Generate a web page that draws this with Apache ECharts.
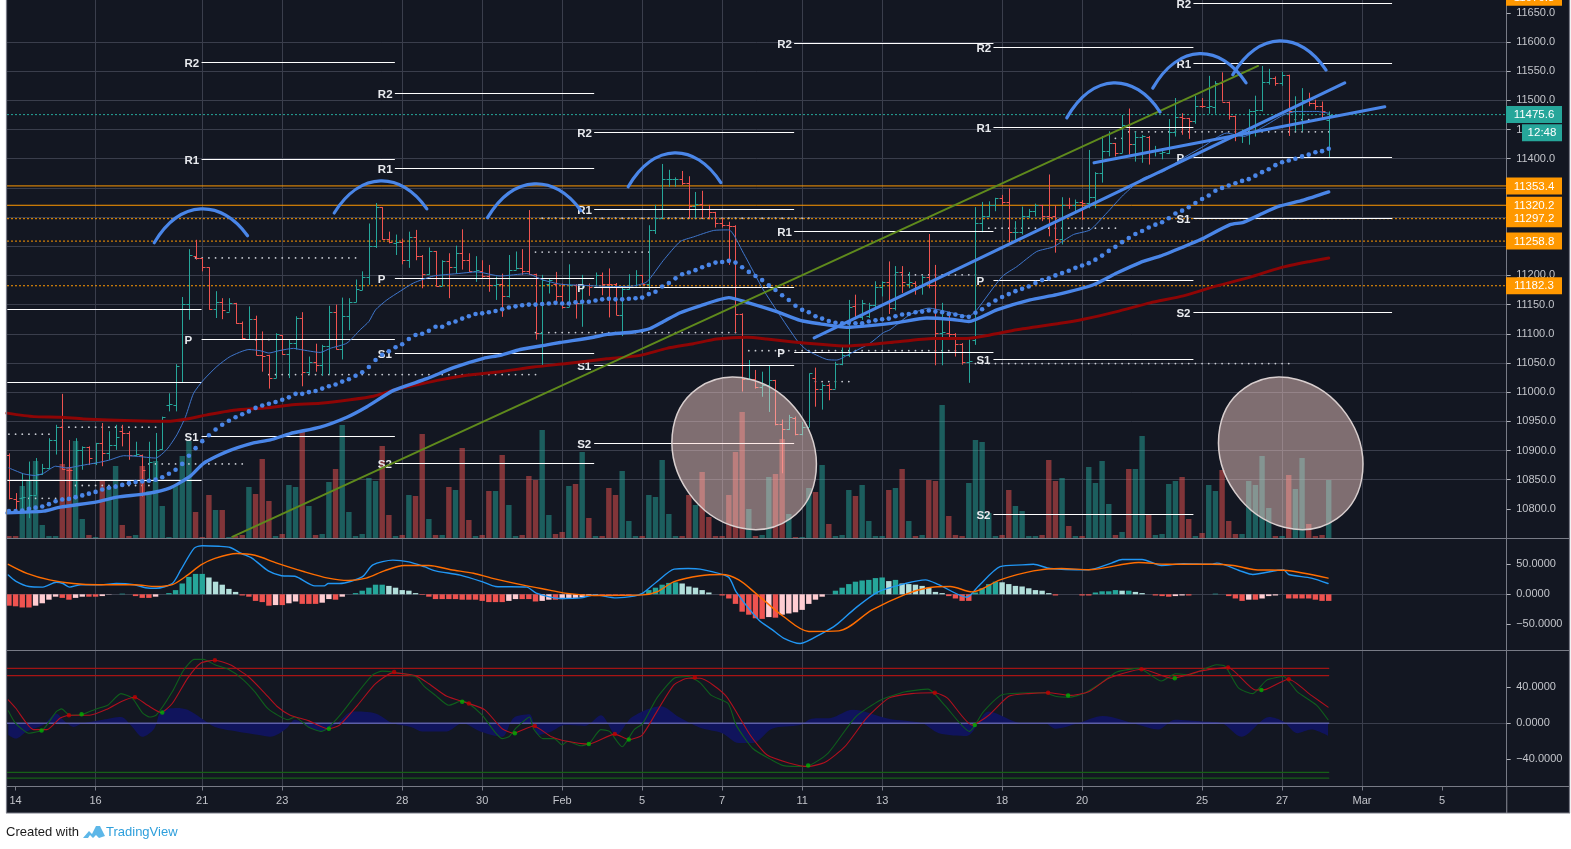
<!DOCTYPE html>
<html><head><meta charset="utf-8">
<style>html,body{margin:0;padding:0;background:#fff;overflow:hidden}#c{width:1571px;height:849px}</style>
<script src="https://cdn.jsdelivr.net/npm/echarts@6/dist/echarts.min.js"></script></head>
<body><div id="c"></div>
<script>
const FONT='"Liberation Sans",Arial,sans-serif';
const firstBar=-1;
// [open, high, low, close]
const ohlcBars=[
[10893,10895,10816,10818],[10816,10827,10793,10813],[10818,10861,10793,10820],[10798,10881,10784,10824],[10824,10887,10824,10860],[10860,10877,10858,10870],[10870,10921,10868,10918],[10918,10944,10893,10941],[10941,10997,10867,10868],[10867,10918,10821,10866],
[10821,10921,10818,10900],[10900,10907,10867,10906],[10906,10907,10875,10887],[10878,10913,10875,10913],[10913,10947,10873,10896],[10896,10933,10884,10910],[10910,10944,10901,10923],[10933,10944,10907,10930],[10930,10933,10884,10893],[10893,10915,10890,10894],
[10893,10893,10821,10867],[10847,10915,10845,10880],[10850,10930,10847,10901],[10902,10958,10901,10958],[10978,10998,10967,10979],[10978,11048,10967,11045],[11017,11163,11017,11151],[11151,11245,11124,11235],[11234,11261,11227,11230],[11229,11230,11207,11214],
[11214,11214,11141,11142],[11142,11173,11127,11155],[11155,11161,11125,11140],[11138,11161,11138,11153],[11153,11153,11117,11118],[11118,11121,11090,11093],[11091,11147,11090,11125],[11125,11131,11063,11063],[11063,11104,11035,11062],[11063,11064,11006,11025],
[11025,11101,11024,11099],[11098,11098,11064,11066],[11066,11090,11024,11084],[11084,11130,11073,11127],[11127,11137,11010,11035],[11035,11061,11030,11051],[11051,11083,11035,11047],[11047,11081,11028,11079],[11079,11148,11030,11137],[11137,11150,11073,11074],
[11074,11162,11056,11131],[11131,11161,11106,11154],[11154,11193,11154,11177],[11175,11207,11175,11198],[11198,11289,11184,11250],[11250,11324,11247,11317],[11317,11317,11261,11262],[11262,11275,11255,11258],[11255,11270,11235,11257],
[11257,11263,11219,11227],[11227,11275,11213,11265],[11265,11278,11226,11233],[11233,11235,11178,11202],[11202,11248,11201,11242],[11242,11242,11181,11182],[11182,11226,11182,11225],[11225,11238,11161,11214],[11214,11251,11203,11238],[11238,11279,11210,11226],
[11226,11238,11206,11208],[11208,11233,11189,11209],[11208,11226,11195,11199],[11199,11218,11172,11184],[11184,11198,11158,11185],[11185,11203,11129,11165],[11165,11235,11162,11210],[11210,11241,11210,11212],[11212,11245,11201,11208],[11208,11312,11201,11203],
[11203,11203,11090,11102],[11102,11201,11045,11192],[11186,11195,11169,11192],[11186,11206,11152,11165],[11165,11186,11143,11146],[11146,11219,11146,11183],[11183,11185,11126,11153],[11153,11201,11112,11183],[11183,11186,11165,11181],[11181,11205,11181,11201],
[11201,11205,11166,11186],[11186,11212,11128,11185],[11186,11187,11132,11132],[11132,11181,11096,11176],[11176,11202,11176,11181],[11181,11209,11181,11201],[11201,11201,11186,11186],[11186,11286,11175,11277],[11277,11321,11271,11298],[11298,11391,11298,11365],
[11365,11381,11352,11366],[11365,11368,11352,11366],[11365,11379,11355,11358],[11358,11370,11298,11319],[11319,11343,11298,11323],[11323,11345,11298,11313],[11313,11321,11296,11309],[11309,11309,11282,11289],[11289,11298,11282,11286],[11286,11292,11218,11285],
[11285,11286,11102,11134],[11134,11135,11001,11022],[11022,11055,11021,11022],[11022,11038,11006,11009],[11009,11035,10992,11012],[11012,11046,10966,11021],[11021,11021,10943,10945],[10945,10953,10861,10936],[10936,10961,10935,10958],[10955,10958,10926,10928],
[10928,10949,10926,10940],[10940,11032,10940,11032],[11025,11042,10975,11006],[11006,11015,10970,11012],[11012,11015,10986,11006],[11006,11052,11006,11048],[11048,11079,11046,11063],[11063,11158,11060,11146],
[11147,11167,11127,11129],[11129,11158,11124,11153],[11130,11153,11127,11149],[11149,11190,11141,11180],[11180,11190,11164,11189],[11189,11224,11134,11144],[11144,11216,11140,11206],[11206,11216,11170,11188],[11186,11206,11178,11188],[11187,11190,11167,11181],
[11181,11200,11167,11198],[11198,11271,11178,11184],[11184,11218,11046,11102],[11102,11153,11046,11103],[11101,11138,11093,11100],[11100,11101,11061,11083],[11083,11084,11047,11052],[11052,11093,11016,11053],[11090,11317,11081,11290],[11290,11326,11274,11301],
[11301,11327,11300,11321],[11321,11333,11310,11333],[11333,11338,11321,11325],[11325,11349,11255,11274],[11274,11293,11261,11275],[11275,11318,11270,11301],[11301,11314,11298,11310],[11310,11323,11301,11321],[11321,11321,11293,11301],[11301,11373,11267,11300],
[11301,11320,11239,11263],[11263,11334,11253,11321],[11321,11333,11314,11320],[11321,11330,11307,11326],[11326,11329,11295,11324],[11324,11415,11315,11334],[11334,11377,11315,11375],[11375,11439,11359,11413],[11413,11447,11404,11427],[11427,11427,11404,11410],
[11410,11475,11410,11458],[11458,11486,11407,11426],[11426,11447,11395,11438],[11438,11441,11393,11439],[11438,11439,11390,11413],[11413,11422,11404,11413],[11409,11418,11399,11411],[11410,11468,11408,11445],[11445,11504,11438,11471],[11471,11478,11441,11470],
[11470,11470,11434,11464],[11464,11508,11460,11491],[11491,11504,11487,11490],[11489,11542,11477,11491],[11489,11533,11477,11530],[11530,11548,11498,11498],[11498,11498,11467,11474],[11474,11474,11430,11441],[11441,11450,11427,11444],[11444,11485,11424,11481],
[11481,11508,11438,11483],[11483,11559,11481,11531],[11531,11554,11527,11538],[11538,11541,11525,11530],[11530,11549,11525,11544],[11544,11544,11439,11481],[11481,11507,11447,11482],[11481,11521,11447,11501],[11501,11513,11490,11495],[11495,11501,11484,11490],
[11490,11498,11467,11481],[11467,11481,11401,11475.6]];
const volumeBars=[2,2,52,57,77,13,2,2,74,71,97,19,3,1,58,51,72,13,2,3,72,47,77,32,1,53,82,97,26,1,43,28,28,1,2,3,51,44,79,37,2,4,53,51,107,32,3,4,56,69,113,26,2,4,60,57,92,23,2,
3,43,42,104,19,3,3,51,48,90,18,2,3,47,47,83,33,2,3,62,58,108,23,4,6,52,54,86,20,2,2,50,43,67,17,2,2,43,41,78,24,2,2,43,33,66,21,2,2,43,86,126,29,2,3,61,64,99,24,1,1,50,46,73,14,2,3,48,
42,53,17,2,2,48,50,69,17,2,3,58,57,133,22,3,2,55,98,96,25,2,3,48,32,27,2,2,3,78,57,60,12,2,2,71,55,77,34,3,6,69,69,102,24,3,4,54,57,61,19,2,5,53,47,68,17,4,4,57,53,82,30,2,2,63,49,80,14,2,3,58];
const bluePlotDots=[10796,10796,10797,10800,10802,10804,10808,10813,10816,10817,10820,10823,10826,10829,10833,10836,10838,10841,10844,10846,10847,10848,10850,10854,10860,10867,10877,10891,10904,10916,10926,10936,10944,10951,10957,10962,10967,10973,10977,10980,10983,10987,10991,10997,10997,11000,11002,11006,11010,11013,11018,11022,11028,11034,11043,11055,11064,11070,11077,
11082,11091,11098,11100,11105,11112,11112,11118,11121,11126,11130,11134,11135,11137,11139,11142,11145,11147,11149,11150,11150,11151,11152,11153,11152,11152,11154,11155,11155,11157,11159,11160,11159,11159,11160,11161,11162,11168,11172,11181,11187,11195,11202,11205,11209,11214,11218,11222,11223,11225,11222,11214,11206,11199,11192,11183,11175,11166,11158,11148,11141,11137,11130,11126,11122,11119,11118,11119,
11118,11118,11121,11123,11125,11126,11130,11133,11134,11137,11138,11140,11138,11137,11134,11133,11130,11129,11136,11142,11150,11157,11163,11168,11173,11177,11181,11187,11192,11195,11200,11204,11208,11213,11217,11221,11227,11234,11242,11249,11257,11264,11271,11276,11282,11287,11291,11298,11306,11311,11317,11324,11331,11337,11345,11350,11354,11358,11362,11365,11371,11377,11382,11389,11394,11397,11400,11404,11407,11411,11413,11417];
const maThick=[[-1.3,10793],[4.2,10796],[6.7,10803],[12.2,10812],[15.2,10820],[19.7,10826],[23.2,10836],[26.2,10856],[28.2,10878],[31.7,10898],[35.7,10913],[38.2,10918],[41.2,10929],[45.7,10940],[49.7,10957],[52.7,10975],[56.7,11003],[61.7,11023],[65.7,11042],[70.2,11058],[72.7,11063],[75.7,11073],[79.7,11081],[81.7,11085],[86.7,11094],[88.7,11099],[92.7,11103],[95.2,11109],[97.2,11121],[99.7,11136],[102.7,11148],[107,11162],[109.7,11154],[114.2,11138],[117.7,11123],[120.7,11117],[124.7,11111],[128.2,11114],[132.2,11119],[136.7,11127],[140.2,11125],[143,11121],[147.2,11141],[152.2,11158],[156.2,11167],[161.7,11184],[165.2,11204],[168.7,11222],[171.7,11233],[175.2,11249],[177.7,11261],[182.2,11287],[184.2,11291],[187.2,11307],[189.7,11319],[193.2,11329],[197,11343]];
const maRed=[[-1.3,10964],[2.7,10958],[6.7,10957],[10.2,10954],[17.7,10951],[22.7,10950],[25.7,10954],[28.7,10961],[32.7,10969],[37.7,10973],[41.2,10978],[45.7,10981],[50.2,10987],[53.7,10993],[57.2,11005],[60,11012],[63.7,11021],[67.7,11029],[72.7,11035],[77.7,11043],[82.7,11049],[88.7,11057],[93.7,11063],[97.7,11075],[101.7,11083],[105.2,11091],[109.7,11094],[112.7,11091],[116.7,11086],[120.7,11082],[124.7,11079],[131.2,11085],[137.7,11092],[142.7,11092],[146.2,11098],[150.2,11107],[156.7,11118],[160.2,11125],[165.2,11138],[170.2,11153],[175.2,11165],[180.2,11182],[185.2,11197],[189.7,11213],[194.2,11224],[197,11230]];
const maThin=[[-1,10870],[1.2,10860],[3,10857],[4.2,10861],[6,10873],[7.7,10870],[9.7,10874],[12.7,10880],[14.2,10884],[16.2,10891],[18.2,10890],[21,10887],[22.7,10902],[24.2,10927],[25.5,10958],[26.7,10998],[28.2,11021],[30.2,11044],[32.2,11061],[35,11073],[36.7,11071],[38,11067],[39.5,11071],[41.7,11075],[42.7,11073],[45.7,11068],[47.2,11075],[49.7,11084],[51.7,11107],[53,11121],[54,11141],[55.7,11158],[57.7,11173],[59.7,11187],[62.7,11199],[66.2,11203],[69.2,11206],[72.7,11199],[76.7,11203],[79.2,11192],[81.7,11185],[85.2,11183],[89.7,11181],[92.7,11182],[94.7,11189],[97.2,11226],[99.7,11258],[101.7,11266],[104.7,11277],[107,11278],[109.2,11238],[112.2,11175],[117.2,11089],[118.7,11072],[121.7,11056],[123.2,11055],[125.2,11066],[128.2,11084],[130.2,11102],[131.2,11107],[134.2,11133],[137,11144],[139.7,11138],[143,11130],[144.2,11141],[148,11198],[150.2,11215],[153.2,11241],[155.7,11249],[158.7,11270],[161.2,11278],[163.7,11307],[166.2,11338],[169.2,11367],[172.2,11378],[174.7,11398],[178.2,11421],[181.7,11444],[184.2,11438],[187.2,11455],[190.2,11475],[192.2,11481],[195.2,11481],[197,11478]];
// pivot periods: start bar, end bar, [name, price]
const pivotStart=[-1.25,27.9,56.9,86.8,116.8,146.7,176.7];
const pivotEnd=[27.9,56.9,86.8,116.8,146.7,176.7,206.5];
const pivotLevels=[
[['',11143],['',11018],['',10850]],
[['R2',11566],['R1',11400],['P',11091],['S1',10925]],
[['R2',11513],['R1',11384],['P',11196],['S1',11067],['S2',10879]],
[['R2',11446],['R1',11314],['P',11180],['S1',11047],['S2',10913]],
[['R2',11599],['R1',11276],['P',11069]],
[['R2',11592],['R1',11455],['P',11192],['S1',11057],['S2',10791]],
[['R2',11667],['R1',11564],['P',11403],['S1',11299],['S2',11137]]];
// small white dotted levels: [from bar, to bar, price]
const dotLevels=[[-1,5,10928],[7,21,10940],[27,51,11230],[38,78,11030],[9,20,10840],[20,34,10877],[1,9,10818],[36,38,11090],[78,95,11240],[78,108,11102],[79,119,11298],[110,141,11071],[120,125,11018],[132,144,11201],[146,165,11281],[144,191,11049],[167,197,11446],[192,195,11467],[165,166,11435]];
const hLevels=[11353.4,11320.2,11297.2,11258.8,11182.3];
const hLevelDash=['solid','solid','dot','dot','dot'];
const topLabel=11676.8, lastPrice=11475.6, countdown='12:48';
const trendGreen=[[32.5,10752],[186.4,11559]];
const trendBlue1=[[119.8,11093],[199.4,11530]];
const trendBlue2=[[161.8,11393],[205.4,11489]];
const arcs=[[[20.8,11256],[28.2,11314],[34.8,11268]],[[47.8,11307],[55.3,11362],[61.7,11314]],[[70.8,11299],[78.3,11357],[84.8,11311]],[[91.9,11352],[99.1,11410],[105.8,11359]],[[157.7,11470],[164.9,11530],[171.7,11480]],[[170.6,11521],[178.1,11580],[184.6,11530]],[[182.6,11544],[190,11602],[196.6,11552]]];
const ellipses=[[109.3,10895],[191.3,10895]];
const macdHist=[-19,-20,-22,-22,-19,-15,-9,-4,-6,-9,-6,-4,-4,-4,-3,-0.5,0,1,0,-3,-6,-6,-4,0,2,7,18,29,34,34,28,21,16,9,4,-2,-4,-11,-13,-19,-18,-18,-15,-12,-16,-16,-16,-14,-8,-9,-4,0,2,6,11,16,16,14,11,7,6,2,-1,-4,-8,-8,-8,-8,-9,-9,-9,-11,-13,-13,-13,-11,-8,-8,-8,-12,-11,-9,-9,-8,-7,-6,-5,-3,-1,-1,-1,-1,-1,-1,0,1,7,11,16,19,20,18,13,11,7,3,0,-2,-7,-16,-29,-34,-40,-41,-38,-39,-34,-32,-30,-26,-16,-9,-4,0,6,11,17,21,23,24,27,28,22,24,18,17,16,14,11,4,2,-3,-7,-11,-11,3,10,17,21,20,17,14,13,10,7,6,2,-2,0,0,0,-2,-2,3,5,5,7,6,6,4,2,0,-2,-3,-4,-3,-2,-2,0,0,0,1,0,-3,-7,-11,-9,-9,-7,-3,-2,0,-7,-7,-7,-7,-9,-11,-11];
const macdLine=[[-1.1,32],[0,22],[2,13],[4.1,12],[6.1,20],[7.1,18],[8.1,12],[9.8,16],[12.8,16],[15.1,18],[17.8,16],[19.5,11],[21.1,10],[23.5,18],[24.8,41],[26.8,77],[28,81],[30.5,80],[32.2,78],[33.9,68],[35.5,60],[37.9,39],[39.9,31],[41.9,30],[44.9,14],[46.3,14],[46.9,18],[48.6,18],[52,29],[53.6,49],[56.6,57],[59,54],[61.3,46],[63,39],[66.7,32],[70,21],[72,13],[76.7,12],[78.1,2],[81.8,-7],[84.8,-6],[86.8,-1],[90.1,-6],[92.8,-3],[94.1,2],[96.2,21],[98.8,42],[100.9,43],[102.7,42],[106.9,29],[108.1,4],[111.5,-43],[113.5,-59],[115.2,-73],[117.7,-82],[121,-65],[123.1,-51],[126,-23],[129.4,4],[133.5,18],[136.5,24],[138.5,16],[142.7,-5],[144.4,13],[147.7,46],[151,49],[152.7,50],[155.2,43],[161,41],[164.4,52],[166,58],[169,58],[171.9,48],[175.2,51],[179.4,50],[180.2,52],[184,38],[185.6,33],[190.2,41],[191,33],[194.4,27],[196.9,18]];
const macdSignal=[[-1.1,50],[1.7,35],[5.1,24],[8.7,18],[12.4,16],[17.8,16],[21.1,13],[23.5,16],[25.8,32],[27.8,49],[29.9,60],[33.2,68],[35.9,65],[39.2,52],[43.2,38],[46.9,27],[49.9,23],[52.6,27],[55.3,39],[58.3,48],[62,48],[65.3,41],[68.7,35],[71.4,27],[76.7,14],[80.1,7],[82.4,2],[86.8,-2],[94.1,-1],[96.2,4],[98.8,21],[102.7,31],[106,33],[108.5,24],[111,2],[115.2,-37],[119,-62],[123.5,-61],[128.5,-26],[133.5,0],[136.9,11],[140.2,13],[143.5,4],[147.7,24],[152.7,39],[156.9,43],[161,41],[168.5,53],[172.7,50],[179.4,50],[182.7,48],[186,41],[190.2,40],[196.9,27]];
const stochFast=[[-1.1,14],[0,0],[2,-11],[4.1,-7],[6.1,13],[6.9,16],[8.1,9],[10.1,10],[12.1,16],[13.8,20],[15.8,33],[17.5,28],[19,12],[20.1,7],[21.1,9],[23.5,35],[25.2,59],[26.8,71],[28.2,71],[29.9,65],[31.9,60],[33.9,50],[35.9,35],[37.9,16],[40.9,4],[41.9,7],[43.9,-4],[45.9,-9],[46.9,-5],[48.9,11],[51,31],[53.6,54],[55,58],[56.6,57],[60,52],[61.3,41],[63,31],[65,20],[67,25],[68,22],[70,9],[73,-17],[74,-15],[75,-6],[77.1,7],[77.7,-6],[79.1,-17],[80.8,-17],[82,-24],[82.8,-20],[84.8,-25],[86.1,-22],[87.8,-7],[89.1,-9],[91,-26],[92.8,-7],[94.1,0],[96.2,28],[98.8,50],[100.9,52],[102.7,45],[104.4,31],[106.9,22],[108.1,-2],[110.6,-28],[113.5,-41],[115.2,-47],[118.5,-48],[121.9,-33],[126,7],[129.8,26],[133.5,35],[136.9,38],[139.4,20],[143.1,-9],[145.2,13],[148.1,32],[154.4,34],[156,30],[158.1,29],[160.2,33],[162.7,44],[165.2,57],[168.5,61],[171.9,47],[174,55],[176,54],[180.2,65],[181.5,63],[183.5,39],[185.6,33],[187.7,48],[190.2,52],[192.3,35],[195.2,20],[196.9,4]];
const stochSlow=[[-1.1,26],[0,17],[2.7,-7],[4.7,-7],[6.7,6],[8.1,9],[11.1,9],[13.8,16],[15.8,24],[17.8,29],[19.8,20],[21.8,12],[23.5,22],[25.8,50],[27.8,67],[29.9,70],[32.2,65],[34.9,52],[37.2,35],[39.2,19],[41.2,9],[43.9,3],[46.9,-6],[48.6,-2],[51.3,20],[54,44],[56.6,56],[60,53],[62,44],[64.7,30],[68,22],[70.4,15],[73,-6],[74.7,-11],[77.7,-3],[80.4,-15],[82.1,-19],[86,-23],[89.9,-12],[92,-18],[94,-13],[96.2,13],[98.8,43],[100.9,50],[102.7,50],[106.5,31],[110.2,-13],[112.7,-35],[116,-44],[118.9,-48],[121.5,-43],[124.4,-26],[127.7,6],[131,28],[134.4,33],[137.9,34],[139.8,28],[143.5,-2],[146,9],[149,30],[151.9,33],[155,34],[158.1,31],[161,35],[164,50],[169,60],[173.5,50],[177.7,58],[181.9,62],[186,37],[187.7,38],[191,49],[194.4,31],[196.9,18]];
const stochDiff=[[-1.1,-13],[0,-17],[1.7,-9],[4.1,-2],[6.1,11],[7.4,2],[8.7,-4],[10.1,0],[13.1,4],[15.8,7],[17.5,-4],[19,-15],[20.8,-6],[21.8,13],[24.2,17],[25.8,15],[27.8,6],[29.9,-4],[33.2,-9],[36.5,-13],[38.2,-15],[40.6,-6],[41.9,4],[43.9,-4],[45.9,-9],[47.9,-2],[50.6,13],[54,11],[56.6,0],[59.3,-4],[61,-9],[64.7,-9],[67,0],[69.7,-9],[73,-15],[74.7,6],[77.1,10],[78.4,-13],[80.4,-9],[82.4,-2],[85.4,-3],[87.8,9],[90.1,-13],[92.5,7],[96.8,19],[99.5,7],[102.7,-5],[106,-11],[108.5,-22],[110.6,-22],[113.5,-6],[117.7,-2],[119.4,5],[122.3,6],[125.6,15],[131,5],[136,0],[138.5,-11],[142.7,-14],[146,13],[151,0],[154.4,0],[156,-6],[159.4,0],[163.1,8],[168.5,-2],[171.4,-7],[173.9,4],[178.1,2],[181,0],[183.9,-15],[188.1,7],[190.2,2],[192.3,-11],[194.4,-7],[196.9,-14]];
const crossGreen=[[3.9,-8],[9.9,10],[22,12],[47,-6],[67,24],[74.9,-11],[86,-23],[92,-18],[118.9,-47],[143.9,-2],[157.9,31],[173.9,50],[186.9,37]];
const crossRed=[[8,9],[17.9,29],[29.9,70],[56.8,57],[68,22],[77.9,-3],[89.9,-12],[101.9,51],[137.9,34],[154.9,34],[168.9,60],[181.9,62],[191,49]];
const stochBands=[61,53,-54.4,-61];
const stochBandColors=['#a01414','#a81414','#176017','#176017'];
const timeTicks=[0,12,28,40,58,70,82,94,106,118,130,148,160,178,190,202,214];
const timeLabels=['14','16','21','23','28','30','Feb','5','7','11','13','18','20','25','27','Mar','5'];
const priceTicks=[];for(let p=10800;p<=11650;p+=50)priceTicks.push(p);
const macdTicks=[-50,0,50];
const stochTicks=[-40,0,40];

const BG='#131722',GRID='#3a3e4c',UP='#26a69a',DN='#ef5350',ORANGE='#ff9800',EDGE='#787b86',TXT='#c3c5cb';
const XMIN=-1.29,XMAX=223.7,LASTBAR=197;
const PLOTW=1499.7;
const barIdx=k=>k+firstBar;

const grids=[
 {left:7,width:PLOTW,top:0,height:538},
 {left:7,width:PLOTW,top:301,height:237},
 {left:7,width:PLOTW,top:538.5,height:112},
 {left:7,width:PLOTW,top:650.5,height:136},
 {left:7,width:PLOTW,top:0,height:786.5}];
const hiddenX=g=>({type:'value',gridIndex:g,min:XMIN,max:XMAX,show:false});
const lab=(fmt,vals)=>({color:TXT,fontFamily:FONT,fontSize:11,margin:9.5,customValues:vals,formatter:fmt});
const rightY=(g,min,max,ticks,fmt)=>({type:'value',gridIndex:g,position:'right',min,max,scale:true,
  axisLine:{show:true,onZero:false,lineStyle:{color:EDGE,width:1}},axisTick:{show:true,length:4,customValues:ticks,lineStyle:{color:'#b0b3ba'}},
  axisLabel:lab(fmt,ticks),splitLine:{show:true,showMinLine:false,showMaxLine:false,lineStyle:{color:GRID,width:1}}});

const line=(data,color,width,z,extra)=>Object.assign({type:'line',xAxisIndex:0,yAxisIndex:0,data,showSymbol:false,symbol:'none',silent:true,z,
  lineStyle:{color,width,cap:'round',join:'round'}},extra||{});
const pane=(g)=>({xAxisIndex:g,yAxisIndex:g});
const soft=(g,s)=>Object.assign(pane(g),{smooth:s});

const ohlcData=ohlcBars.map((b,k)=>[barIdx(k),b[0],b[1],b[2],b[3]]);
function renderOHLC(p,api){
  const i=api.value(0),o=api.value(1),h=api.value(2),l=api.value(3),c=api.value(4);
  const X=Math.round(api.coord([i,o])[0])+.5;
  const yO=Math.round(api.coord([i,o])[1])+.5,yH=api.coord([i,h])[1],yL=api.coord([i,l])[1],yC=Math.round(api.coord([i,c])[1])+.5;
  const st={stroke:c>=o?UP:DN,lineWidth:1,fill:null};
  return {type:'group',children:[
   {type:'line',shape:{x1:X,y1:yH,x2:X,y2:yL},style:st},
   {type:'line',shape:{x1:X-3,y1:yO,x2:X,y2:yO},style:st},
   {type:'line',shape:{x1:X,y1:yC,x2:X+3,y2:yC},style:st}]};
}
const pivotRows=[];pivotLevels.forEach((lv,k)=>lv.forEach(r=>pivotRows.push([pivotStart[k],pivotEnd[k],r[1],r[0]])));
function renderPivot(p,api){
  const r=pivotRows[p.dataIndex],a=api.coord([r[0],r[2]]),b=api.coord([r[1],r[2]]);
  const Y=Math.round(a[1])+.5;
  const ch=[{type:'line',shape:{x1:Math.max(a[0],7),y1:Y,x2:b[0],y2:Y},style:{stroke:'#fff',lineWidth:1}}];
  if(r[3])ch.push({type:'text',x:a[0]-17,y:Y+1.5,style:{text:r[3],fill:'#e8eaee',font:'bold 11.5px '+FONT,align:'left',verticalAlign:'middle'}});
  return {type:'group',children:ch};
}
function renderDots(p,api){
  const r=dotLevels[p.dataIndex],ch=[];
  for(let i=r[0];i<=r[1];i++){const c=api.coord([i,r[2]]);ch.push({type:'circle',shape:{cx:c[0],cy:c[1],r:.9},style:{fill:'#c9ccd3'}});}
  return {type:'group',children:ch};
}
function renderArc(p,api){
  const a=arcs[p.dataIndex],s=api.coord(a[0]),m=api.coord(a[1]),e=api.coord(a[2]);
  const midY=(s[1]+e[1])/2,cy=m[1]+(m[1]-midY)/3;
  const dx=e[0]-s[0];
  return {type:'bezierCurve',shape:{x1:s[0],y1:s[1],x2:e[0],y2:e[1],cpx1:s[0]+dx*.28,cpy1:cy,cpx2:s[0]+dx*.72,cpy2:cy},
    style:{stroke:'#4a86e8',lineWidth:3.2,fill:null,lineCap:'round'}};
}
function renderEllipse(p,api){
  const c=api.coord(ellipses[p.dataIndex]);
  return {type:'ellipse',x:c[0],y:c[1],rotation:-0.955,shape:{cx:0,cy:0,rx:80,ry:68},
    style:{fill:'rgba(255,214,208,0.46)',stroke:'#d9cfcf',lineWidth:1.5}};
}
const tagRows=[[topLabel,ORANGE,'o'],...hLevels.map(v=>[v,ORANGE,'o']),[lastPrice,UP,'t']];
function renderTags(p,api){
  const r=tagRows[p.dataIndex],y=api.coord([0,r[0]])[1];
  const ch=[{type:'rect',shape:{x:1506,y:y-8.5,width:56,height:17},style:{fill:r[1]}},
   {type:'text',x:1534,y:y+.5,style:{text:r[0].toFixed(1),fill:'#fff',font:'11.5px '+FONT,align:'center',verticalAlign:'middle'}}];
  if(r[2]==='t'){ch.push({type:'rect',shape:{x:1522,y:y+9.6,width:40,height:17},style:{fill:UP}},
   {type:'text',x:1542,y:y+18.6,style:{text:countdown,fill:'#fff',font:'11.5px '+FONT,align:'center',verticalAlign:'middle'}});}
  return {type:'group',children:ch};
}

const series=[
 {type:'bar',...pane(1),data:volumeBars.map((v,k)=>[barIdx(k),v]),barWidth:5.4,silent:true,z:1,
  itemStyle:{color:p=>{const b=ohlcBars[p.dataIndex];return b[3]>=b[0]?'rgba(38,166,154,0.5)':'rgba(239,83,80,0.5)';}}},
 ...hLevels.map((v,k)=>line([[XMIN,v],[XMAX,v]],ORANGE,1,2,{lineStyle:{color:ORANGE,width:1,type:hLevelDash[k]==='dot'?[2,2]:'solid'}})),
 line([[XMIN,lastPrice],[XMAX,lastPrice]],UP,1,2,{lineStyle:{color:UP,width:1,type:[2,2]}}),
 {type:'custom',...pane(0),data:dotLevels.map((d,k)=>[k]),renderItem:renderDots,silent:true,z:2},
 {type:'custom',...pane(0),data:ohlcData,renderItem:renderOHLC,silent:true,z:3},
 {type:'custom',...pane(0),data:pivotRows.map((d,k)=>[k]),renderItem:renderPivot,silent:true,z:3},
 line(maThin,'#3f76cc',1,4,{smooth:.2}),
 line(maRed,'#8e0505',3,4,{smooth:.2}),
 line(maThick,'#4a86e8',3.4,4,{smooth:.2}),
 {type:'scatter',...pane(0),data:bluePlotDots.map((v,k)=>[barIdx(k),v]),symbolSize:4.6,silent:true,z:4,itemStyle:{color:'#4a86e8',opacity:1}},
 line(trendGreen,'#5f8a1c',2,4),
 line(trendBlue1,'#4a86e8',3.2,5),
 line(trendBlue2,'#4a86e8',3.2,5),
 {type:'custom',...pane(0),data:arcs.map((d,k)=>[k]),renderItem:renderArc,silent:true,z:5},
 {type:'custom',...pane(0),data:ellipses.map((d,k)=>[k]),renderItem:renderEllipse,silent:true,z:6},
 {type:'custom',...pane(0),data:tagRows.map((d,k)=>[k]),renderItem:renderTags,silent:true,z:7,clip:false},
 // MACD
 {type:'bar',...pane(2),data:macdHist.map((v,k)=>[barIdx(k),v]),barWidth:5.4,silent:true,z:2,
  itemStyle:{color:p=>{const v=macdHist[p.dataIndex],q=p.dataIndex?macdHist[p.dataIndex-1]:v;return v>=0?(v>=q?UP:'#b2dfdb'):(v<=q?'#ef5350':'#ffcdd2');}}},
 line(macdLine,'#2196f3',1.4,3,soft(2,.25)),
 line(macdSignal,'#ff6d00',1.4,3,soft(2,.3)),
 // Stochastic-style pane
 Object.assign(line(stochDiff,'#10145c',0,2,soft(3,.3)),{areaStyle:{color:'#10145c',opacity:1,origin:0}}),
 line([[XMIN,0],[LASTBAR,0]],'#5d5fa8',1.5,2,pane(3)),
 ...stochBands.map((v,k)=>line([[XMIN,v],[LASTBAR,v]],stochBandColors[k],1.2,2,pane(3))),
 line(stochFast,'#0f5f1c',1.1,3,soft(3,.2)),
 line(stochSlow,'#b0101e',1.1,3,soft(3,.2)),
 {type:'scatter',...pane(3),data:crossGreen,symbolSize:4.5,silent:true,z:4,itemStyle:{color:'#00b000'}},
 {type:'scatter',...pane(3),data:crossRed,symbolSize:4.5,silent:true,z:4,itemStyle:{color:'#c00000'}},
 {type:'line',xAxisIndex:4,yAxisIndex:4,data:[],silent:true}
];

const chart=echarts.init(document.getElementById('c'),null,{renderer:'canvas',width:1571,height:849});
const gLine=(x1,y1,x2,y2)=>({type:'line',shape:{x1,y1,x2,y2},silent:true,z:8,style:{stroke:EDGE,lineWidth:1.2}});
chart.setOption({
 animation:false,backgroundColor:'#ffffff',grid:grids,
 textStyle:{fontFamily:FONT},
 xAxis:[hiddenX(0),hiddenX(1),hiddenX(2),hiddenX(3),
  {type:'value',gridIndex:4,min:XMIN,max:XMAX,position:'bottom',
   axisLine:{show:true,onZero:false,lineStyle:{color:EDGE,width:1.2}},
   axisTick:{show:true,length:4,customValues:timeTicks,lineStyle:{color:EDGE}},
   axisLabel:{color:TXT,fontFamily:FONT,fontSize:11,margin:9,customValues:timeTicks,formatter:v=>timeLabels[timeTicks.indexOf(v)]||''},
   splitLine:{show:true,showMinLine:false,showMaxLine:false,lineStyle:{color:GRID,width:1}}}],
 yAxis:[
  rightY(0,10750,11672,priceTicks,v=>v.toFixed(1)),
  {type:'value',gridIndex:1,min:0,max:237,show:false},
  rightY(2,-93.7,93,macdTicks,v=>v.toFixed(4).replace('-','\u2212')),
  rightY(3,-70.2,80.9,stochTicks,v=>v.toFixed(4).replace('-','\u2212')),
  {type:'value',gridIndex:4,min:0,max:1,show:false}],
 series,
 graphic:{elements:[
  {type:'rect',z:-10,silent:true,shape:{x:6,y:0,width:1564,height:813},style:{fill:BG}},
  gLine(6.5,0,6.5,813),gLine(1569.5,0,1569.5,813),gLine(6,813,1570,813),
  gLine(7,538.5,1569,538.5),gLine(7,650.5,1569,650.5),gLine(1506.7,786.5,1506.7,813),gLine(1506,786.5,1569,786.5),
  {type:'text',x:6,y:832,silent:true,style:{text:'Created with',fill:'#1a1a1a',font:'13px '+FONT,verticalAlign:'middle'}},
  {type:'polygon',silent:true,shape:{points:[[83,838],[89,831],[92,834],[96,826],[100,826],[105,836],[99,838],[96,835],[93,838],[90,835],[88,838]]},style:{fill:'#5db7e8'}},
  {type:'text',x:106,y:832,silent:true,style:{text:'TradingView',fill:'#2e9fdc',font:'13px '+FONT,verticalAlign:'middle'}}
 ]}
});
</script></body></html>
